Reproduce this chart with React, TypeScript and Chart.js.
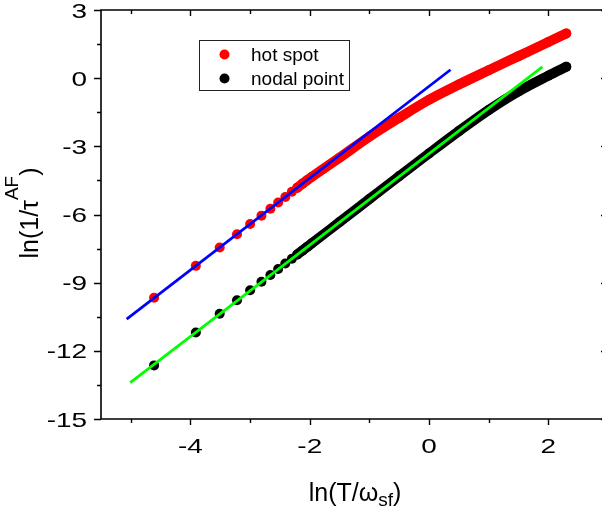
import React, { useEffect, useRef } from 'react';
import { Chart, registerables } from 'chart.js';

Chart.register(...registerables);

// ---- data ----
const hotSpotX = [-4.61, -3.91, -3.51, -3.22, -3.0, -2.81, -2.66, -2.53, -2.41, -2.3, -2.21, -2.12, -2.04, -1.97, -1.5, -1.0, -0.5, 0.0, 0.5, 1.0, 1.5, 2.0, 2.3];
const hotSpotY = [-9.66, -8.26, -7.45, -6.87, -6.42, -6.05, -5.75, -5.47, -5.23, -5.0, -4.82, -4.64, -4.48, -4.35, -3.5, -2.57, -1.74, -0.95, -0.28, 0.35, 0.97, 1.59, 1.97];
const nodalX = [-4.61, -3.91, -3.51, -3.22, -3.0, -2.81, -2.66, -2.53, -2.41, -2.3, -2.21, -2.12, -2.04, -1.97, -1.5, -1.0, -0.5, 0.0, 0.5, 1.0, 1.5, 2.0, 2.3];
const nodalY = [-12.64, -11.19, -10.37, -9.77, -9.33, -8.96, -8.66, -8.4, -8.16, -7.95, -7.76, -7.58, -7.42, -7.28, -6.33, -5.32, -4.31, -3.31, -2.33, -1.4, -0.58, 0.11, 0.5];
const hotFitX = [-5.07, 0.36];
const hotFitY = [-10.6, 0.37];
const nodalFitX = [-5.01, 1.9];
const nodalFitY = [-13.4, 0.5];
// points at or beyond this x are so dense they merge into a continuous band
const BAND_START = -2.25;

const X_MIN = -5.5;
const X_MAX = 3;
const Y_MIN = -15;
const Y_MAX = 3;
const xTickValues = [-4, -2, 0, 2];
const xMinorTickValues = [-5, -3, -1, 1, 3];
const yTickValues = [3, 0, -3, -6, -9, -12, -15];
const yMinorTickValues = [1.5, -1.5, -4.5, -7.5, -10.5, -13.5];

const legendLabels = ['hot spot', 'nodal point'];

const RED = '#ff0000';
const BLACK = '#000000';
const BLUE = '#0000ff';
const GREEN = '#00ff00';
const FONT = "'Liberation Sans', Arial, sans-serif";

type Part = { t: string; size: number; dy: number };

function drawRich(ctx: CanvasRenderingContext2D, parts: Part[], cx: number, y: number) {
  let total = 0;
  const widths: number[] = [];
  for (const p of parts) {
    ctx.font = `${p.size}px ${FONT}`;
    const w = ctx.measureText(p.t).width;
    widths.push(w);
    total += w;
  }
  let x = cx - total / 2;
  ctx.textAlign = 'left';
  ctx.textBaseline = 'alphabetic';
  parts.forEach((p, i) => {
    ctx.font = `${p.size}px ${FONT}`;
    ctx.fillText(p.t, x, y + p.dy);
    x += widths[i];
  });
}

const TICK_STRETCH = 1.33;

const decorPlugin = {
  id: 'decor',
  afterDraw(chart: any) {
    const ctx: CanvasRenderingContext2D = chart.ctx;
    const { left, right, top, bottom } = chart.chartArea;
    const xs = chart.scales.x;
    const ys = chart.scales.y;
    ctx.save();
    ctx.strokeStyle = '#000';
    ctx.fillStyle = '#000';
    ctx.lineWidth = 1.6;
    // frame
    ctx.beginPath();
    ctx.moveTo(left, top);
    ctx.lineTo(right, top);
    ctx.lineTo(right, bottom);
    ctx.lineTo(left, bottom);
    ctx.closePath();
    ctx.stroke();
    // ticks
    ctx.lineWidth = 1.4;
    ctx.beginPath();
    const xTick = (v: number, len: number) => {
      const px = Math.round(xs.getPixelForValue(v)) + 0.5;
      ctx.moveTo(px, bottom);
      ctx.lineTo(px, bottom + len);
      ctx.moveTo(px, top);
      ctx.lineTo(px, top + len);
    };
    const yTick = (v: number, len: number) => {
      const py = Math.round(ys.getPixelForValue(v)) + 0.5;
      ctx.moveTo(left, py);
      ctx.lineTo(left - len, py);
      ctx.moveTo(right, py);
      ctx.lineTo(right - len, py);
    };
    xTickValues.forEach((v) => xTick(v, 6));
    xMinorTickValues.forEach((v) => xTick(v, 4));
    yTickValues.forEach((v) => yTick(v, 7));
    yMinorTickValues.forEach((v) => yTick(v, 4));
    ctx.stroke();

    // tick labels (wide face, as in the reference)
    ctx.font = `21px ${FONT}`;
    ctx.textBaseline = 'alphabetic';
    xs.ticks.forEach((t: any) => {
      const px = xs.getPixelForValue(t.value);
      ctx.save();
      ctx.translate(px, bottom + 34);
      ctx.scale(TICK_STRETCH, 1);
      ctx.textAlign = 'center';
      ctx.fillText(String(t.value), 0, 0);
      ctx.restore();
    });
    ys.ticks.forEach((t: any) => {
      const py = ys.getPixelForValue(t.value);
      ctx.save();
      ctx.translate(left - 14, py + 7.5);
      ctx.scale(TICK_STRETCH, 1);
      ctx.textAlign = 'right';
      ctx.fillText(String(t.value), 0, 0);
      ctx.restore();
    });

    // axis titles
    drawRich(
      ctx,
      [
        { t: 'ln(T/ω', size: 25, dy: 0 },
        { t: 'sf', size: 19, dy: 5 },
        { t: ')', size: 25, dy: 0 },
      ],
      355,
      501
    );
    ctx.save();
    ctx.translate(38, 213);
    ctx.rotate(-Math.PI / 2);
    drawRich(
      ctx,
      [
        { t: 'ln(1/τ', size: 25, dy: 0 },
        { t: 'AF', size: 19, dy: -20 },
        { t: ')', size: 25, dy: 0 },
      ],
      0,
      0
    );
    ctx.restore();

    // legend
    ctx.lineWidth = 1;
    ctx.strokeStyle = '#222';
    ctx.strokeRect(199.5, 40.5, 150, 50);
    const ds = chart.data.datasets;
    [0, 1].forEach((i) => {
      const cy = 54.5 + i * 24;
      ctx.beginPath();
      ctx.fillStyle = ds[i].backgroundColor;
      ctx.arc(224.5, cy, 5, 0, Math.PI * 2);
      ctx.fill();
      ctx.fillStyle = '#000';
      ctx.font = `19px ${FONT}`;
      ctx.textAlign = 'left';
      ctx.textBaseline = 'alphabetic';
      ctx.fillText(legendLabels[i], 251, cy + 6.5);
    });
    ctx.restore();
  },
};

function makeSeries(label: string, xs: number[], ys: number[], color: string) {
  return {
    label,
    data: xs.map((x, i) => ({ x, y: ys[i] })),
    showLine: true,
    borderColor: color,
    backgroundColor: color,
    borderWidth: 10,
    borderCapStyle: 'round',
    borderJoinStyle: 'round',
    cubicInterpolationMode: 'monotone',
    pointRadius: 5,
    pointHoverRadius: 5,
    pointBorderWidth: 0,
    pointBackgroundColor: color,
    segment: {
      borderColor: (c: any) => (xs[c.p0DataIndex] >= BAND_START ? color : 'rgba(0,0,0,0)'),
    },
    order: 2,
  };
}

function makeFit(label: string, xs: number[], ys: number[], color: string) {
  return {
    label,
    data: xs.map((x, i) => ({ x, y: ys[i] })),
    showLine: true,
    borderColor: color,
    backgroundColor: color,
    borderWidth: 2.8,
    pointRadius: 0,
    pointHoverRadius: 0,
    order: 0,
  };
}

export default function App() {
  const ref = useRef<HTMLCanvasElement | null>(null);
  useEffect(() => {
    document.body.style.margin = '0';
    if (!ref.current) return;
    const chart = new Chart(ref.current, {
      type: 'scatter',
      data: {
        datasets: [
          makeSeries(legendLabels[0], hotSpotX, hotSpotY, RED),
          makeSeries(legendLabels[1], nodalX, nodalY, BLACK),
          makeFit('hot spot fit', hotFitX, hotFitY, BLUE),
          makeFit('nodal point fit', nodalFitX, nodalFitY, GREEN),
        ] as any,
      },
      options: {
        responsive: false,
        animation: false,
        devicePixelRatio: 1,
        events: [],
        layout: { padding: { top: 10, right: 12, left: 0, bottom: 0 } },
        plugins: { legend: { display: false }, tooltip: { enabled: false } },
        scales: {
          x: {
            type: 'linear',
            position: 'bottom',
            min: X_MIN,
            max: X_MAX,
            grid: { display: false },
            border: { display: false },
            ticks: { display: false },
            afterBuildTicks: (s: any) => {
              s.ticks = xTickValues.map((v) => ({ value: v }));
            },
            afterFit: (s: any) => {
              s.height = 95;
              s.paddingLeft = 0;
              s.paddingRight = 0;
            },
          },
          y: {
            type: 'linear',
            position: 'left',
            min: Y_MIN,
            max: Y_MAX,
            grid: { display: false },
            border: { display: false },
            ticks: { display: false },
            afterBuildTicks: (s: any) => {
              s.ticks = yTickValues.map((v) => ({ value: v }));
            },
            afterFit: (s: any) => {
              s.width = 101;
              s.paddingTop = 0;
              s.paddingBottom = 0;
            },
          },
        },
      } as any,
      plugins: [decorPlugin],
    });
    return () => chart.destroy();
  }, []);
  return (
    <div style={{ position: 'absolute', left: 0, top: 0, width: 602, height: 514, overflow: 'hidden', background: '#fff' }}>
      <canvas ref={ref} width={620} height={514} style={{ display: 'block' }} />
    </div>
  );
}
